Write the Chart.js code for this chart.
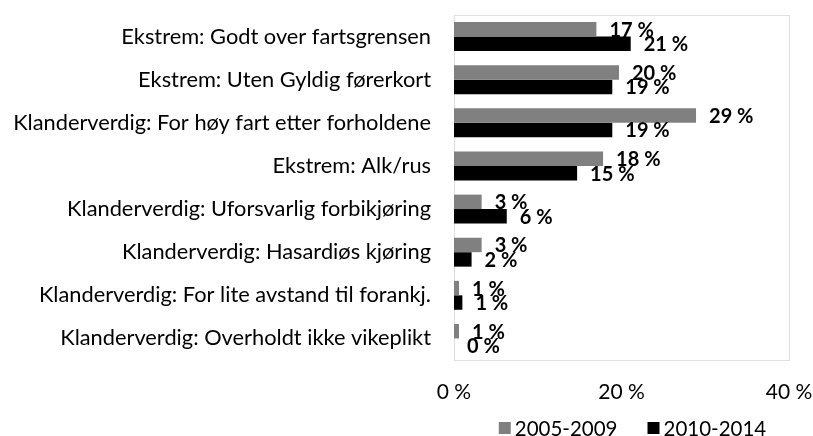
<!DOCTYPE html>
<html>
<head>
<meta charset="utf-8">
<script src="https://cdn.jsdelivr.net/npm/chart.js@4/dist/chart.umd.min.js"></script>
<style>
  html, body { margin: 0; padding: 0; background: #fff; }
  #wrap { width: 813px; height: 436px; position: relative; }
</style>
</head>
<body>
<div id="wrap"><canvas id="chart" width="813" height="436"></canvas></div>
<script>
(function(){
    "use strict";

    const categories = [
        'Ekstrem: Godt over fartsgrensen',
        'Ekstrem: Uten Gyldig førerkort',
        'Klanderverdig: For høy fart etter forholdene',
        'Ekstrem: Alk/rus',
        'Klanderverdig: Uforsvarlig forbikjøring',
        'Klanderverdig: Hasardiøs kjøring',
        'Klanderverdig: For lite avstand til forankj.',
        'Klanderverdig: Overholdt ikke vikeplikt'
    ];
    const seriesNames = ['2005-2009', '2010-2014'];
    const values2005 = [17.0, 19.7, 28.9, 17.8, 3.3, 3.3, 0.6, 0.6];
    const values2010 = [21.1, 18.9, 18.9, 14.7, 6.3, 2.1, 1.0, 0];
    const xTicks = [0, 20, 40];

    const FONT = 'Lato, "Open Sans", sans-serif';
    const pct = v => Math.round(v) + ' %';

    // dotted frame round the plot area
    const frame = {
        id: 'frame',
        beforeDatasetsDraw(chart) {
            const { ctx, chartArea: a } = chart;
            ctx.save();
            ctx.strokeStyle = '#bfbfbf';
            ctx.lineWidth = 1;
            ctx.setLineDash([1, 1]);
            ctx.strokeRect(Math.round(a.left) + 0.5, Math.round(a.top) + 0.5, Math.round(a.width), Math.round(a.height));
            ctx.restore();
        }
    };

    // value labels just past the bar ends
    const valueLabels = {
        id: 'valueLabels',
        afterDatasetsDraw(chart) {
            const ctx = chart.ctx;
            ctx.save();
            ctx.font = 'bold 20px ' + FONT;
            ctx.fillStyle = '#000';
            ctx.textAlign = 'left';
            ctx.textBaseline = 'middle';
            chart.data.datasets.forEach((ds, i) => {
                chart.getDatasetMeta(i).data.forEach((bar, j) => {
                    ctx.fillText(pct(ds.data[j]), bar.x + 13, bar.y + 1);
                });
            });
            ctx.restore();
        }
    };

    // legend below the axis
    const legendBelow = {
        id: 'legendBelow',
        afterDraw(chart) {
            const { ctx, chartArea: a } = chart;
            ctx.save();
            ctx.font = '20.5px ' + FONT;
            ctx.textBaseline = 'middle';
            const sq = 12, gap = 4, space = 30;
            const items = chart.data.datasets.map(ds => ({ label: ds.label, color: ds.backgroundColor, w: ctx.measureText(ds.label).width }));
            const total = items.reduce((s, it) => s + sq + gap + it.w, 0) + space * (items.length - 1);
            let x = (a.left + a.right) / 2 + 11 - total / 2;
            const y = 428;
            items.forEach(it => {
                ctx.fillStyle = it.color;
                ctx.fillRect(x, y - sq / 2, sq, sq);
                x += sq + gap;
                ctx.fillStyle = '#000';
                ctx.fillText(it.label, x, y + 1);
                x += it.w + space;
            });
            ctx.restore();
        }
    };

    new Chart(document.getElementById('chart'), {
        type: 'bar',
        data: {
            labels: categories,
            datasets: [
                { label: seriesNames[0], data: values2005, backgroundColor: '#808080', borderWidth: 0 },
                { label: seriesNames[1], data: values2010, backgroundColor: '#000000', borderWidth: 0 }
            ]
        },
        options: {
            indexAxis: 'y',
            responsive: false,
            animation: false,
            layout: { padding: { left: 0, right: 24, top: 15, bottom: 0 } },
            datasets: { bar: { categoryPercentage: 0.67, barPercentage: 1 } },
            plugins: { legend: { display: false }, tooltip: { enabled: false } },
            scales: {
                x: {
                    min: 0, max: 40,
                    afterBuildTicks: s => { s.ticks = xTicks.map(v => ({ value: v })); },
                    grid: { display: false, drawTicks: false },
                    border: { display: false },
                    ticks: { color: '#000', font: { family: FONT, size: 21 }, padding: 20, callback: v => v + ' %' },
                    afterFit: s => { s.height = 76; s.paddingLeft = 0; s.paddingRight = 0; }
                },
                y: {
                    grid: { display: false, drawTicks: false },
                    border: { display: false },
                    ticks: { color: '#000', font: { family: FONT, size: 21.8 }, padding: 23, autoSkip: false },
                    afterFit: s => { s.width = 454; s.paddingTop = 0; s.paddingBottom = 0; }
                }
            }
        },
        plugins: [frame, valueLabels, legendBelow]
    });
})();
</script>
</body>
</html>
